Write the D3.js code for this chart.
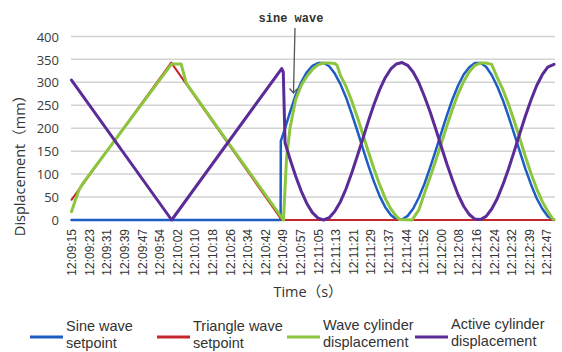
<!DOCTYPE html>
<html>
<head>
<meta charset="utf-8">
<script src="https://cdn.jsdelivr.net/npm/d3@7/dist/d3.min.js"></script>
<style>
  html, body { margin: 0; padding: 0; background: #fff; }
  svg { display: block; }
</style>
</head>
<body>
<svg id="chart" width="562" height="352"></svg>
<script>
// Time axis labels (hh:mm:ss), one per category tick
const timeLabels = ["12:09:15","12:09:23","12:09:31","12:09:39","12:09:47","12:09:54","12:10:02",
  "12:10:10","12:10:18","12:10:26","12:10:34","12:10:42","12:10:49","12:10:57","12:11:05",
  "12:11:13","12:11:21","12:11:29","12:11:37","12:11:44","12:11:52","12:12:00","12:12:08",
  "12:12:16","12:12:24","12:12:32","12:12:39","12:12:47"];

const yTicks = [0, 50, 100, 150, 200, 250, 300, 350, 400];

// Series: [seconds after 12:09:15, displacement in mm]
const sineSetpoint = [[0,0],[93.3,0],[93.4,172],[95,195],[97.5,235],[100,272],[102.5,300],[105,322],
  [107.5,336],[110,342],[112.5,342],[115,335],[117.5,319],[120,296],[122.5,267],[125,232],[127.5,195],
  [130,156],[132.5,118],[135,83],[137.5,52],[140,28],[142.5,11],[145,1],[147.5,1],[150,9],[152.5,25],
  [155,49],[157.5,79],[160,114],[162.5,151],[165,190],[167.5,228],[170,263],[172.5,293],[175,317],
  [177.5,333],[180,342],[182.5,342],[185,334],[187.5,316],[190,291],[192.5,261],[195,226],[197.5,188],
  [200,150],[202.5,112],[205,78],[207.5,48],[210,25],[212.5,8],[215.3,0]];

const triangleSetpoint = [[0,44],[44.5,343],[93.8,0],[215.3,0]];

const waveCylinder = [[0,18],[1.5,40],[3.3,65],[4.8,78],[44.2,337],[44.8,340],[48.9,340],[51.2,298],
  [70,168],[94.3,2],[94.6,0],[95.3,70],[96,138],[97.5,200],[100,262],[102.5,293],[105,313],[107.5,328],
  [110,338],[112.5,342],[115,342],[117.5,341],[118.5,337],[120,315],[122.5,291],[125,260],[127.5,225],
  [130,187],[132.5,148],[135,111],[137.5,77],[140,47],[142.5,24],[145,8],[146.5,1],[152,0],[155,22],
  [157.5,58],[160,93],[162.5,129],[165,167],[167.5,205],[170,242],[172.5,275],[175,302],[177.5,323],
  [180,337],[182.5,342],[185,342],[187.5,339],[190,310],[192.5,284],[195,252],[197.5,216],[200,178],
  [202.5,139],[205,102],[207.5,69],[210,41],[212.5,19],[214.5,4],[215.3,1]];

const activeCylinder = [[0,305],[44.7,0],[93.8,330],[94.5,322],[95.3,168],[97.5,133],[100,96],
  [102.5,63],[105,36],[107.5,16],[110,4],[112.5,0],[115,5],[117.5,19],[120,40],[122.5,68],[125,102],
  [127.5,139],[130,177],[132.5,216],[135,252],[137.5,284],[140,310],[142.5,329],[145,340],[147.5,343],
  [150,337],[152.5,322],[155,299],[157.5,269],[160,236],[162.5,199],[165,160],[167.5,122],[170,87],
  [172.5,55],[175,30],[177.5,12],[180,2],[182.5,1],[185,8],[187.5,24],[190,47],[192.5,77],[195,111],
  [197.5,149],[200,188],[202.5,226],[205,261],[207.5,292],[210,316],[212.5,333],[215.3,339]];

const seriesNames = ["Sine wave|setpoint", "Triangle wave|setpoint", "Wave cylinder|displacement", "Active cylinder|displacement"];
const seriesColors = ["#1c5cc4", "#c3262c", "#8cc63e", "#5b2c97"];
const seriesWidths = [2.5, 2, 3, 3];
const seriesData = [sineSetpoint, triangleSetpoint, waveCylinder, activeCylinder];

const svg = d3.select("#chart");
const W = 562, H = 352;
svg.append("rect").attr("width", W).attr("height", H).attr("fill", "#fff");

const x = d3.scaleLinear().domain([0, 215.3]).range([71.5, 554]);
const y = d3.scaleLinear().domain([0, 400]).range([220, 36.4]);

const textFont = "'Open Sans', 'Noto Sans CJK SC', sans-serif";
const legendFont = "'Liberation Sans', Arial, sans-serif";

// horizontal gridlines
svg.append("g").selectAll("line").data(yTicks.filter(d => d > 0)).join("line")
  .attr("x1", 71).attr("x2", 555)
  .attr("y1", d => y(d)).attr("y2", d => y(d))
  .attr("stroke", "#d3d3d3").attr("stroke-width", 1.5);

// y axis labels
const yAxis = d3.axisLeft(y).tickValues(yTicks).tickSize(0).tickPadding(0);
const gy = svg.append("g").attr("transform", "translate(59,0)").call(yAxis);
gy.select(".domain").remove();
gy.selectAll("text").attr("font-family", textFont).attr("font-size", 13)
  .attr("fill", "#3a3a3a").attr("dy", "0.36em");

// x axis: evenly spaced category ticks spanning the labelled time range
const toSec = s => { const p = s.split(":").map(Number); return p[0]*3600 + p[1]*60 + p[2]; };
const t0 = toSec(timeLabels[0]);
const span = toSec(timeLabels[timeLabels.length - 1]) - t0;
const tickPos = timeLabels.map((_, i) => i * span / (timeLabels.length - 1));
const xAxis = d3.axisBottom(x).tickValues(tickPos).tickSize(0)
  .tickFormat((d, i) => timeLabels[i]);
const gx = svg.append("g").attr("transform", "translate(0,220)").call(xAxis);
gx.select(".domain").remove();
gx.selectAll("text")
  .attr("font-family", "'Liberation Sans', Arial, sans-serif").attr("font-size", 12)
  .attr("fill", "#333")
  .attr("text-anchor", "end")
  .attr("transform", "rotate(-90)")
  .attr("x", -9).attr("y", 0).attr("dy", "0.35em");

// series lines
const line = d3.line().x(d => x(d[0])).y(d => y(d[1])).curve(d3.curveLinear);
svg.append("g").selectAll("path").data(seriesData).join("path")
  .attr("d", line)
  .attr("fill", "none")
  .attr("stroke", (d, i) => seriesColors[i])
  .attr("stroke-width", (d, i) => seriesWidths[i])
  .attr("stroke-linejoin", "round")
  .attr("stroke-linecap", "round");

// axis titles
svg.append("text")
  .attr("transform", "translate(25,162) rotate(-90)")
  .attr("text-anchor", "middle")
  .attr("font-family", textFont).attr("font-size", 14.5).attr("fill", "#333")
  .text("Displacement（mm）");
svg.append("text")
  .attr("x", 308).attr("y", 297)
  .attr("text-anchor", "middle")
  .attr("font-family", textFont).attr("font-size", 14.5).attr("fill", "#333")
  .text("Time（s）");

// annotation with arrow
svg.append("text")
  .attr("x", 291).attr("y", 22)
  .attr("text-anchor", "middle")
  .attr("font-family", "'Liberation Mono', 'Courier New', monospace")
  .attr("font-size", 12).attr("font-weight", "bold").attr("fill", "#333")
  .text("sine wave");
svg.append("line")
  .attr("x1", 295).attr("y1", 28).attr("x2", 293.5).attr("y2", 92.5)
  .attr("stroke", "#555").attr("stroke-width", 1.3);
svg.append("path")
  .attr("d", "M289.5,88.5 L293.4,93 L297,89")
  .attr("fill", "none").attr("stroke", "#555").attr("stroke-width", 1.3);

// legend
const legendX = [30, 157, 287, 415];
const legendBase = [330.5, 330.5, 330, 328.5];
const lg = svg.append("g");
seriesNames.forEach((name, i) => {
  lg.append("line")
    .attr("x1", legendX[i]).attr("x2", legendX[i] + 33)
    .attr("y1", 337).attr("y2", 337)
    .attr("stroke", seriesColors[i]).attr("stroke-width", 3);
  const parts = name.split("|");
  parts.forEach((p, k) => {
    lg.append("text")
      .attr("x", legendX[i] + 36).attr("y", legendBase[i] + k * 17)
      .attr("font-family", legendFont).attr("font-size", 14.5).attr("fill", "#333")
      .text(p);
  });
});
</script>
</body>
</html>
